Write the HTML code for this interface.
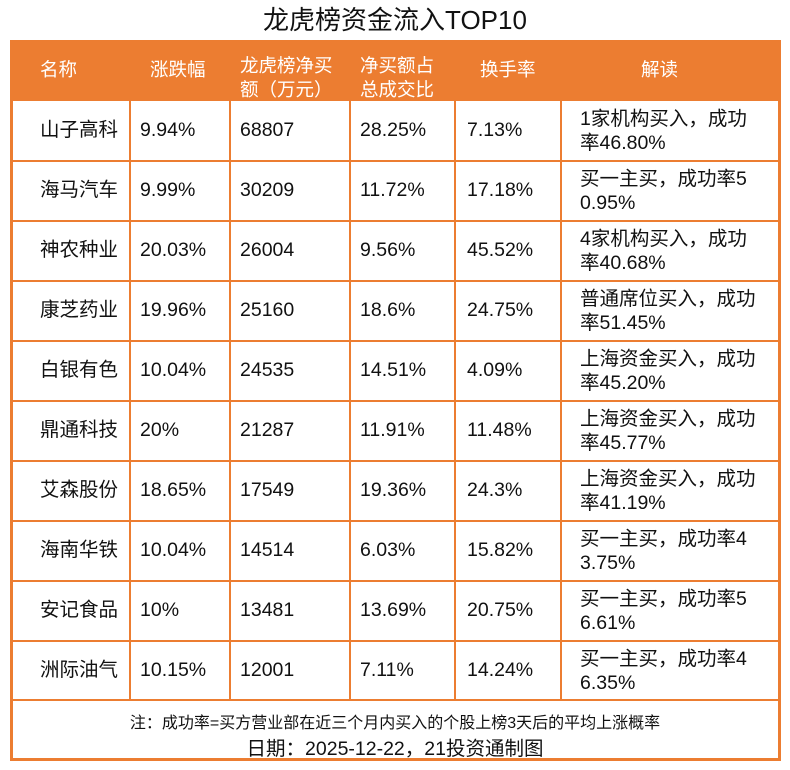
<!DOCTYPE html>
<html><head><meta charset="utf-8"><style>
*{margin:0;padding:0;box-sizing:border-box}
body{width:790px;height:770px;background:#fff;font-family:"Liberation Sans","Noto Sans CJK SC",sans-serif;color:#111;position:relative;overflow:hidden}
.t{position:absolute;top:4px;left:0;width:790px;text-align:center;font-size:26px;line-height:32px}
.box{position:absolute;left:10px;top:40px;width:771px;height:721px;border:3px solid #ec7d31;border-top:none}
.hdr{position:absolute;left:10px;top:40px;width:771px;height:61px;background:#ec7d31}
.h{position:absolute;color:#fff;font-size:18.5px;line-height:24px}
.hl{position:absolute;left:10px;width:771px;height:2px;background:#ec7d31}
.vl{position:absolute;top:101px;width:2px;height:600px;background:#ec7d31}
.c{position:absolute;font-size:19.5px;line-height:24px}
.n{position:absolute;left:0;width:790px;text-align:center;font-size:16px}
</style></head><body>
<div class="t">龙虎榜资金流入TOP10</div>
<div class="hdr"></div>
<div class="box"></div>
<div class="h" style="left:40px;top:58px">名称</div>
<div class="h" style="left:150px;top:58px">涨跌幅</div>
<div class="h" style="left:240px;top:54px">龙虎榜净买<br>额（万元）</div>
<div class="h" style="left:360px;top:54px">净买额占<br>总成交比</div>
<div class="h" style="left:480px;top:58px">换手率</div>
<div class="h" style="left:641px;top:58px">解读</div>
<div class="vl" style="left:129px"></div>
<div class="vl" style="left:229px"></div>
<div class="vl" style="left:349px"></div>
<div class="vl" style="left:454px"></div>
<div class="vl" style="left:560px"></div>
<div id="rows"></div>
<div class="n" style="top:709px">注：成功率=买方营业部在近三个月内买入的个股上榜3天后的平均上涨概率</div>
<div class="n" style="top:732px;font-size:19.5px">日期：2025-12-22，21投资通制图</div>
<script>
var d=[["山子高科","9.94%","68807","28.25%","7.13%","1家机构买入，成功","率46.80%"],
["海马汽车","9.99%","30209","11.72%","17.18%","买一主买，成功率5","0.95%"],
["神农种业","20.03%","26004","9.56%","45.52%","4家机构买入，成功","率40.68%"],
["康芝药业","19.96%","25160","18.6%","24.75%","普通席位买入，成功","率51.45%"],
["白银有色","10.04%","24535","14.51%","4.09%","上海资金买入，成功","率45.20%"],
["鼎通科技","20%","21287","11.91%","11.48%","上海资金买入，成功","率45.77%"],
["艾森股份","18.65%","17549","19.36%","24.3%","上海资金买入，成功","率41.19%"],
["海南华铁","10.04%","14514","6.03%","15.82%","买一主买，成功率4","3.75%"],
["安记食品","10%","13481","13.69%","20.75%","买一主买，成功率5","6.61%"],
["洲际油气","10.15%","12001","7.11%","14.24%","买一主买，成功率4","6.35%"]];
var h="",xs=[40,140,240,360,467];
for(var i=0;i<10;i++){var y=101+i*60;
if(i>0)h+='<div class="hl" style="top:'+(y-1)+'px"></div>';
for(var j=0;j<5;j++)h+='<div class="c" style="left:'+xs[j]+'px;top:'+(y+17)+'px">'+d[i][j]+'</div>';
h+='<div class="c" style="left:580px;top:'+(y+6)+'px">'+d[i][5]+'<br>'+d[i][6]+'</div>';}
h+='<div class="hl" style="top:699px"></div>';
document.getElementById("rows").innerHTML=h;
</script>
</body></html>
